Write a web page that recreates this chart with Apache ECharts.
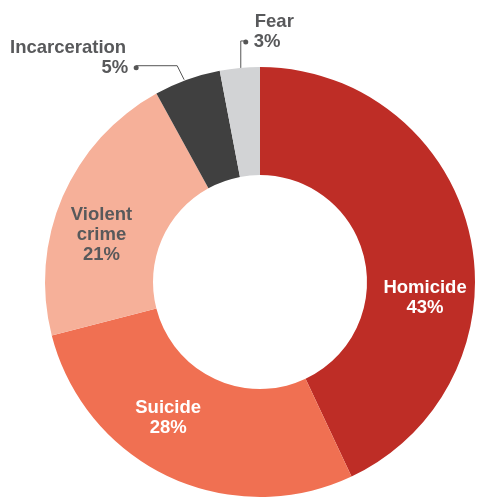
<!DOCTYPE html>
<html>
<head>
<meta charset="utf-8">
<script src="https://cdn.jsdelivr.net/npm/echarts@6/dist/echarts.min.js"></script>
<style>
  html, body { margin: 0; padding: 0; background: #fff; }
  #chart { width: 478px; height: 498px; }
</style>
</head>
<body>
<div id="chart"></div>
<script>
// data
var causes = ['Homicide', 'Suicide', 'Violent crime', 'Incarceration', 'Fear'];
var shares = [43, 28, 21, 5, 3];
var labelNames = ['Homicide', 'Suicide', 'Violent\ncrime', 'Incarceration', 'Fear'];

var colors = ['#BE2D26', '#F07052', '#F6B099', '#404040', '#D2D3D5'];
var gray = '#58595B';
var font = 'Liberation Sans, Arial, sans-serif';

// nudges for the inside labels (from the default mid-ring spot)
var insideShift = { 0: [5, 52], 1: [-22, -12], 2: [-8, 18] };

var chart = echarts.init(document.getElementById('chart'));

var seriesData = causes.map(function (c, i) {
  var item = { name: c, value: shares[i] };
  if (i >= 3) {
    item.label = { position: 'outside' };
    item.labelLine = { show: true };
  } else {
    item.label = { position: 'inside', color: i === 2 ? gray : '#fff' };
    item.labelLine = { show: false };
  }
  return item;
});

function txt() {
  return { fontFamily: font, fontWeight: 'bold', fontSize: 18.5, lineHeight: 20, color: gray };
}

chart.setOption({
  animation: false,
  color: colors,
  series: [{
    type: 'pie',
    center: [260, 282],
    radius: [107, 215],
    startAngle: 90,
    clockwise: true,
    avoidLabelOverlap: false,
    emphasis: { disabled: true },
    itemStyle: { borderWidth: 0 },
    label: {
      fontFamily: font,
      fontWeight: 'bold',
      fontSize: 18.5,
      lineHeight: 20,
      color: gray,
      formatter: function (p) {
        var i = p.dataIndex;
        if (i === 3) {
          return '{t|' + labelNames[i] + '}{gapR|}\n{t|' + shares[i] + '%}{sp|}{dot|}{sp|}';
        }
        if (i === 4) {
          return '{gapL|}{t|' + labelNames[i] + '}\n{sp|}{dot|}{sp|}{t|' + shares[i] + '%}';
        }
        return labelNames[i] + '\n' + shares[i] + '%';
      },
      rich: {
        t: txt(),
        gapR: { width: 18, height: 20 },
        gapL: { width: 17, height: 20 },
        sp: { width: 5.5, height: 20 },
        dot: { width: 5, height: 5, borderRadius: 2.5, backgroundColor: '#555' }
      }
    },
    labelLine: {
      lineStyle: { color: '#555', width: 1 }
    },
    labelLayout: function (p) {
      var i = p.dataIndex;
      if (insideShift[i]) {
        return { dx: insideShift[i][0], dy: insideShift[i][1] };
      }
      var p0 = p.labelLinePoints[0];
      var p1, p2;
      if (i === 3) {
        p0 = [p0[0] - 3, p0[1]];
        p1 = [p0[0] - 7, p0[1] - 14];
        p2 = [p1[0] - 41, p1[1]];
        return {
          x: p2[0] + 8, y: p2[1] + 12,
          align: 'right', verticalAlign: 'bottom',
          labelLinePoints: [p0, p1, p2]
        };
      }
      p1 = [p0[0] + 1, p0[1] - 27];
      p0 = [p0[0] + 1, p0[1]];
      p2 = [p1[0] + 5, p1[1]];
      return {
        x: p2[0] - 8, y: p2[1] + 11,
        align: 'left', verticalAlign: 'bottom',
        labelLinePoints: [p0, p1, p2]
      };
    },
    data: seriesData
  }]
});
</script>
</body>
</html>
